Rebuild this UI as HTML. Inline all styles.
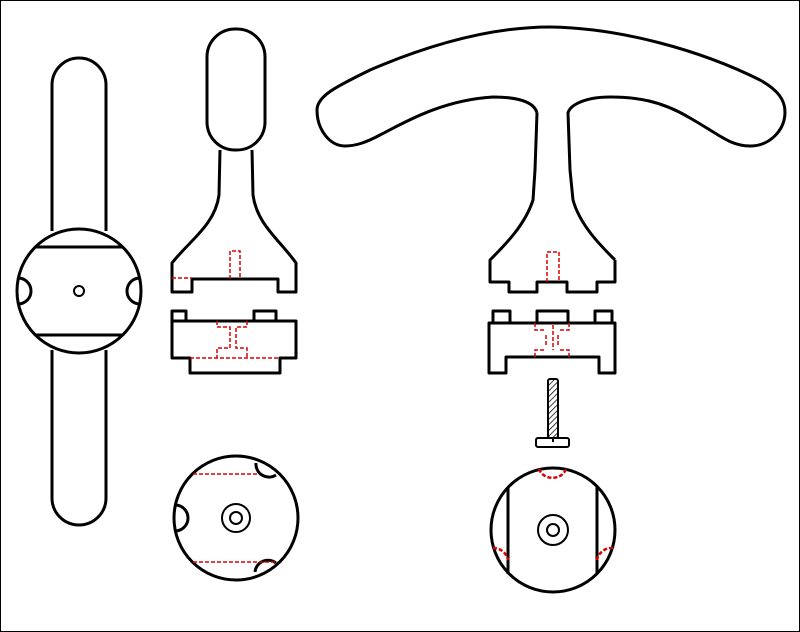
<!DOCTYPE html>
<html><head><meta charset="utf-8"><style>html,body{margin:0;padding:0;background:#fff}svg{display:block}</style></head><body>
<svg width="800" height="632" viewBox="0 0 800 632" xmlns="http://www.w3.org/2000/svg">
<rect x="0.5" y="0.5" width="799" height="631" fill="#fff" stroke="#000" stroke-width="1"/>
<g fill="none" stroke="#000" stroke-width="3" stroke-linejoin="round">
<!-- left strap view -->
<path d="M52,231 L52,85 A27,27 0 0 1 106,85 L106,231"/>
<path d="M52,350 L52,498 A27,27 0 0 0 106,498 L106,350"/>
<circle cx="79" cy="291" r="62"/>
<line x1="36" y1="247" x2="122" y2="247"/>
<line x1="36" y1="335" x2="122" y2="335"/>
<path d="M18,278 A13,13 0 0 1 18,304"/>
<path d="M140,278 A13,13 0 0 0 140,304"/>
<circle cx="79" cy="291" r="5" stroke-width="2"/>
<!-- middle capsule -->
<rect x="207" y="29" width="58" height="121" rx="28" ry="28"/>
<path d="M220,150 L219,195 C215,225 190,240 172,263 L172,292 L192,292 L192,279 L278,279 L278,292 L296,292 L296,263 C280,240 257,225 253,195 L252,150"/>
<path d="M172,321 L172,311 L186,311 L186,321 M254,321 L254,311 L276,311 L276,321"/>
<path d="M172,321 L296,321 L296,358 L280,358 L280,373 L190,373 L190,358 L172,358 Z"/>
<!-- T bar -->
<path d="M537,113 C535,105 525,97 493,97 C440,100 400,125 380,135 C365,143 355,146 345,146 C330,146 317,130 317,110 C317,95 340,85 370,70 C440,40 500,27 550,27 C620,28 700,50 760,80 C778,90 785,100 785,112 C785,130 770,146 750,146 C730,146 720,135 690,118 C660,100 635,97 610,97 C585,97 570,105 568,113 L570,170 L573,200 C580,225 600,245 615,260"/>
<path d="M537,113 L535,170 L533,200 C525,225 505,245 490,260 L490,282 L509,282 L509,292 L537,292 L537,282 L567,282 L567,292 L597,292 L597,282 L615,282 L615,260"/>
<path d="M489,323 L489,373 L506,373 L506,357 L599,357 L599,373 L615,373 L615,323 Z"/>
<path d="M493,323 L493,311 L510,311 L510,323 M537,323 L537,311 L568,311 L568,323 M595,323 L595,311 L612,311 L612,323"/>
<!-- bottom circles -->
<circle cx="236" cy="518" r="62"/>
<circle cx="236" cy="518" r="14" stroke-width="2"/>
<circle cx="236" cy="518" r="6" stroke-width="2"/>
<path d="M256,463 A13,13 0 0 0 276,475"/>
<path d="M255,572 A13,13 0 0 1 276,563"/>
<path d="M175,505 A13,13 0 0 1 175,531"/>
<circle cx="553" cy="530" r="62"/>
<circle cx="553" cy="530" r="15" stroke-width="2"/>
<circle cx="553" cy="530" r="6" stroke-width="2"/>
<line x1="508" y1="487" x2="508" y2="574"/>
<line x1="597" y1="487" x2="597" y2="574"/>
</g>
<!-- screw -->
<defs><pattern id="h" width="4" height="4" patternUnits="userSpaceOnUse" patternTransform="rotate(45)"><line x1="0" y1="0" x2="0" y2="4" stroke="#000" stroke-width="1.5"/></pattern></defs>
<rect x="548" y="379" width="10" height="59" rx="2" fill="url(#h)" stroke="#000" stroke-width="2"/>
<rect x="536" y="438" width="33" height="9" rx="2" fill="#fff" stroke="#000" stroke-width="2"/>
<line x1="553" y1="438" x2="553" y2="442" stroke="#000" stroke-width="2"/>
<!-- red hidden lines -->
<g fill="none" stroke="#d00" stroke-width="1.5" stroke-dasharray="4,2">
<path d="M230,279 L230,251 L240,251 L240,279"/>
<path d="M172,278 L192,278"/>
<path d="M217,321 L217,327 L230,327 L230,348 L217,348 L217,358 M247,321 L247,327 L236,327 L236,348 L247,348 L247,358"/>
<path d="M190,358 L280,358"/>
<path d="M547,282 L547,252 L559,252 L559,282"/>
<path d="M535,323 L535,330 L546,330 M546,335 L546,345 M553,325 L553,350 M569,323 L569,330 L558,330 M558,335 L558,345 M535,357 L535,350 L546,350 M569,357 L569,350 L558,350"/>
<line x1="193" y1="474" x2="258" y2="474"/>
<line x1="193" y1="562" x2="276" y2="562"/>
<path d="M539,469 A14,12 0 0 0 566,469" stroke-width="2.5"/>
<path d="M493,548 A15,15 0 0 1 508,560" stroke-width="2.5"/>
<path d="M613,548 A15,15 0 0 0 597,560" stroke-width="2.5"/>
</g>
</svg>
</body></html>
